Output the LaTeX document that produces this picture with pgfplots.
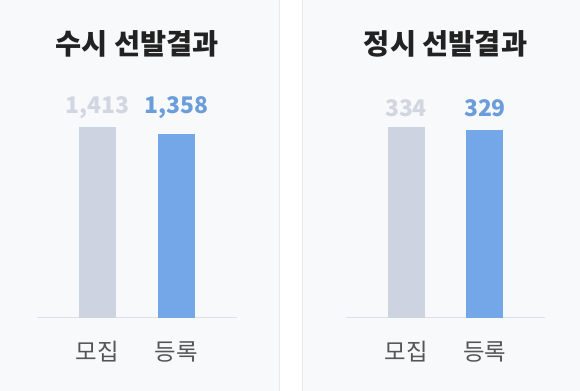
\documentclass[border=0pt]{standalone}
\usepackage{pgfplots}
\pgfplotsset{compat=1.18}
\usepackage{fontspec}
\setmainfont{Noto Sans CJK KR}
\definecolor{cardbg}{HTML}{F8F9FB}
\definecolor{cardborder}{HTML}{E6E8EC}
\definecolor{bargray}{HTML}{CDD3E0}
\definecolor{barblue}{HTML}{74A7E7}
\definecolor{labgray}{HTML}{D1D6E0}
\definecolor{labblue}{HTML}{6C9DDB}
\definecolor{titlec}{HTML}{222222}
\definecolor{catc}{HTML}{555555}
\definecolor{basec}{HTML}{DDE1E8}
\pgfplotsset{
  panel/.style={
    scale only axis, clip=false,
    height=191bp,
    ymin=0,
    axis x line*=bottom, axis y line=none,
    x axis line style={basec, line width=1bp, -},
    xtick={0,1}, xticklabels={모집,등록},
    major tick length=0pt,
    xticklabel style={anchor=center, yshift=-34bp, text=catc, font=\fontsize{23.5}{26}\selectfont},
    ybar, bar width=37bp,
    title style={at={(0.5,1)}, anchor=center, yshift=77bp, text=titlec, font=\fontsize{28.5}{32}\selectfont\bfseries},
  },
  vlab/.style={draw=none, fill=none, forget plot, nodes near coords, point meta=explicit symbolic,
    nodes near coords style={anchor=center, yshift=19bp, text=#1, font=\fontsize{23}{26}\selectfont\bfseries}},
}
\begin{document}
\begin{tikzpicture}
\useasboundingbox (0,0) rectangle (580bp,391bp);
\fill[white] (0,0) rectangle (580bp,391bp);
\filldraw[fill=cardbg, draw=cardborder, line width=1bp] (-5bp,-5bp) rectangle (279bp,396bp);
\filldraw[fill=cardbg, draw=cardborder, line width=1bp] (302bp,-5bp) rectangle (585bp,396bp);
\begin{axis}[panel, at={(37bp,73bp)}, anchor=south west, width=200bp,
  xmin=-0.766, xmax=1.766, ymax=1413, title={수시 선발결과}]
\addplot[fill=bargray, draw=none, bar shift=0pt] coordinates {(0,1413)};
\addplot[fill=barblue, draw=none, bar shift=0pt] coordinates {(1,1358)};
\addplot[vlab=labgray, bar shift=0pt] coordinates {(0,1413)[1,413]};
\addplot[vlab=labblue, bar shift=0pt] coordinates {(1,1413)[1,358]};
\end{axis}
\begin{axis}[panel, at={(346bp,73bp)}, anchor=south west, width=199bp,
  xmin=-0.76, xmax=1.76, ymax=334, title={정시 선발결과}]
\addplot[fill=bargray, draw=none, bar shift=0pt] coordinates {(0,334)};
\addplot[fill=barblue, draw=none, bar shift=0pt] coordinates {(1,329)};
\addplot[vlab=labgray, bar shift=0pt] coordinates {(0,334)[334]};
\addplot[vlab=labblue, bar shift=0pt] coordinates {(1,334)[329]};
\end{axis}
\end{tikzpicture}
\end{document}
